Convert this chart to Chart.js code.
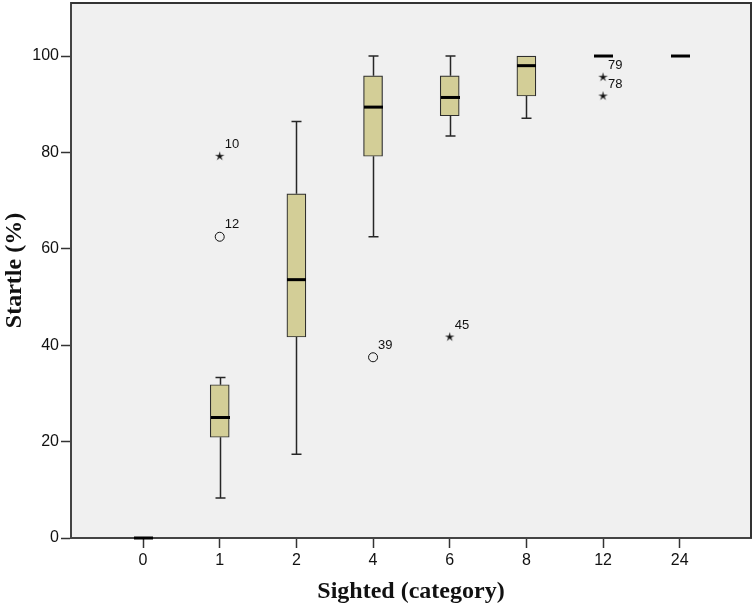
<!DOCTYPE html>
<html lang="en">
<head>
<meta charset="UTF-8">
<title>Startle by sighted category</title>
<script src="https://cdn.jsdelivr.net/npm/chart.js"></script>
<style>
  body { margin: 0; background: #fff; }
  #wrap { width: 755px; height: 606px; }
</style>
</head>
<body>
<div id="wrap"><canvas id="boxChart"></canvas></div>
<script>
// category labels on the x axis
const categories = ['0', '1', '2', '4', '6', '8', '12', '24'];

// box plot summary per category (Startle %)
const whiskerLow  = [0, 8.3, 17.4, 62.5, 83.4, 87.1, 100, 100];
const q1          = [0, 20.9, 41.7, 79.2, 87.6, 91.7, 100, 100];
const median      = [0, 25.0, 53.6, 89.4, 91.4, 98.0, 100, 100];
const q3          = [0, 31.8, 71.4, 95.9, 95.9, 100, 100, 100];
const whiskerHigh = [0, 33.3, 86.4, 100, 100, 100, 100, 100];

// outliers (x = category index)
const circleX = [1, 3];
const circleY = [62.5, 37.5];
const circleIds = ['12', '39'];
const starX = [1, 4, 6, 6];
const starY = [79.2, 41.7, 95.6, 91.7];
const starIds = ['10', '45', '79', '78'];

const yTicks = [0, 20, 40, 60, 80, 100];

const BOX_W = 19;
const CAP_W = 10;

// small 5 point star used as point style for extreme values
function makeStar() {
    const c = document.createElement('canvas');
    c.width = 11; c.height = 11;
    const g = c.getContext('2d');
    g.fillStyle = '#111';
    g.beginPath();
    for (let k = 0; k < 10; k++) {
        const r = k % 2 === 0 ? 5 : 1.6;
        const a = -Math.PI / 2 + k * Math.PI / 5;
        const px = 5.5 + r * Math.cos(a), py = 5.5 + r * Math.sin(a);
        if (k === 0) g.moveTo(px, py); else g.lineTo(px, py);
    }
    g.closePath();
    g.fill();
    return c;
}

const boxData = [];
categories.forEach((c, i) => {
    if (q3[i] > q1[i]) boxData.push({ x: i, y: [q1[i], q3[i]] });
});

const boxPlot = {
    id: 'boxPlot',
    beforeDraw(chart) {
        const { ctx, chartArea: a } = chart;
        ctx.save();
        ctx.fillStyle = '#f0f0f0';
        ctx.fillRect(a.left, a.top, a.right - a.left, a.bottom - a.top);
        ctx.restore();
    },
    afterDatasetsDraw(chart) {
        const { ctx, chartArea: a } = chart;
        const x = chart.scales.x, y = chart.scales.y;
        ctx.save();
        // whiskers and caps
        ctx.strokeStyle = '#262626';
        ctx.lineWidth = 1.5;
        categories.forEach((c, i) => {
            const px = Math.round(x.getPixelForValue(i)) + 0.5;
            const seg = (v1, v2) => {
                const y1 = y.getPixelForValue(v1), y2 = y.getPixelForValue(v2);
                ctx.beginPath();
                ctx.moveTo(px, y1); ctx.lineTo(px, y2);
                ctx.moveTo(px - CAP_W / 2, y2); ctx.lineTo(px + CAP_W / 2, y2);
                ctx.stroke();
            };
            if (whiskerHigh[i] > q3[i]) seg(q3[i], whiskerHigh[i]);
            if (whiskerLow[i] < q1[i]) seg(q1[i], whiskerLow[i]);
        });
        // medians
        ctx.strokeStyle = '#000';
        ctx.lineWidth = 3;
        categories.forEach((c, i) => {
            const px = Math.round(x.getPixelForValue(i)) + 0.5;
            const py = y.getPixelForValue(median[i]);
            ctx.beginPath();
            ctx.moveTo(px - BOX_W / 2, py); ctx.lineTo(px + BOX_W / 2, py);
            ctx.stroke();
        });
        // case numbers next to outliers
        ctx.fillStyle = '#111';
        ctx.font = '13px "Liberation Sans", Arial, sans-serif';
        ctx.textBaseline = 'middle';
        const label = (xs, ys, ids) => xs.forEach((v, k) => {
            ctx.fillText(ids[k], x.getPixelForValue(v) + 5, y.getPixelForValue(ys[k]) - 12);
        });
        label(circleX, circleY, circleIds);
        label(starX, starY, starIds);
        // frame on top and right
        ctx.strokeStyle = '#333';
        ctx.lineWidth = 2;
        ctx.beginPath();
        ctx.moveTo(a.left, a.top); ctx.lineTo(a.right, a.top); ctx.lineTo(a.right, a.bottom);
        ctx.stroke();
        ctx.restore();
    }
};

const ctx = document.getElementById('boxChart').getContext('2d');
new Chart(ctx, {
    type: 'bar',
    data: {
        datasets: [{
            label: 'box',
            data: boxData,
            backgroundColor: '#d3ce97',
            borderColor: '#2e2e2e',
            borderWidth: 1.2,
            borderSkipped: false,
            barThickness: BOX_W
        }, {
            type: 'scatter',
            label: 'outliers',
            data: circleX.map((v, k) => ({ x: v, y: circleY[k] })),
            pointStyle: 'circle',
            pointRadius: 4.5,
            backgroundColor: 'rgba(0,0,0,0)',
            borderColor: '#111',
            borderWidth: 1
        }, {
            type: 'scatter',
            label: 'extremes',
            data: starX.map((v, k) => ({ x: v, y: starY[k] })),
            pointStyle: makeStar(),
            pointRadius: 5
        }]
    },
    options: {
        responsive: true,
        maintainAspectRatio: false,
        animation: false,
        layout: { autoPadding: false, padding: { top: 3, right: 4, left: 0, bottom: 0 } },
        plugins: {
            legend: { display: false },
            tooltip: { enabled: false }
        },
        scales: {
            x: {
                type: 'linear',
                offset: false,
                min: -0.94,
                max: 7.93,
                afterBuildTicks: (s) => { s.ticks = categories.map((c, i) => ({ value: i })); },
                afterFit: (s) => { s.height = 68; s.paddingLeft = 0; s.paddingRight = 0; },
                ticks: {
                    autoSkip: false,
                    maxRotation: 0,
                    padding: 3,
                    color: '#111',
                    font: { family: '"Liberation Sans", Arial, sans-serif', size: 16 },
                    callback: (v) => categories[v]
                },
                grid: { offset: false, drawOnChartArea: false, tickLength: 10, color: '#333', tickWidth: 1.5 },
                border: { color: '#444', width: 2 },
                title: {
                    display: true,
                    text: 'Sighted (category)',
                    color: '#111',
                    padding: { top: 4, bottom: 0 },
                    font: { family: '"Liberation Serif", "Times New Roman", serif', size: 24, weight: 'bold' }
                }
            },
            y: {
                min: 0,
                max: 111,
                afterBuildTicks: (s) => { s.ticks = yTicks.map(v => ({ value: v })); },
                afterFit: (s) => { s.width = 71; s.paddingTop = 0; s.paddingBottom = 0; },
                ticks: {
                    padding: 2,
                    color: '#111',
                    font: { family: '"Liberation Sans", Arial, sans-serif', size: 16 }
                },
                grid: { drawOnChartArea: false, tickLength: 10, color: '#333', tickWidth: 1.5 },
                border: { color: '#444', width: 2 },
                title: {
                    display: true,
                    text: 'Startle (%)',
                    color: '#111',
                    padding: { top: 0, bottom: 0 },
                    font: { family: '"Liberation Serif", "Times New Roman", serif', size: 24, weight: 'bold' }
                }
            }
        }
    },
    plugins: [boxPlot]
});
</script>
</body>
</html>
